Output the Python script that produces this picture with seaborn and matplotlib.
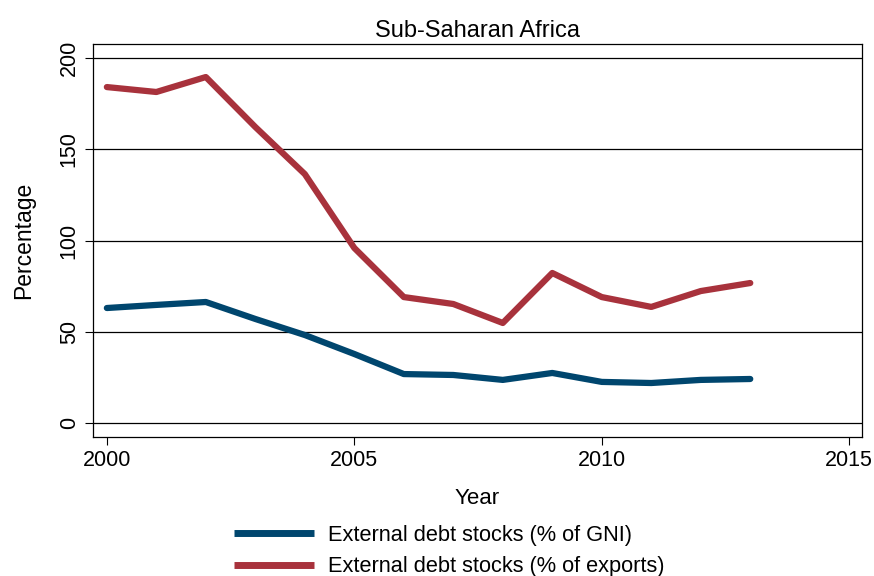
import pandas as pd
import matplotlib
matplotlib.use('Agg')
import matplotlib.pyplot as plt
import seaborn as sns

years = list(range(2000, 2014))
debt_gni = [63.0, 64.7, 66.3, 57.0, 48.2, 37.8, 26.8, 26.3, 23.6, 27.4, 22.5, 21.9, 23.6, 24.1]
debt_exports = [184.1, 181.4, 189.6, 162.2, 136.4, 95.9, 69.0, 65.2, 54.8, 82.2, 69.0, 63.6, 72.3, 76.7]
series_names = ['External debt stocks (% of GNI)', 'External debt stocks (% of exports)']
colors = ['#00466e', '#a8323c']

df = pd.DataFrame({
    'Year': years * 2,
    'value': debt_gni + debt_exports,
    'series': [series_names[0]] * len(years) + [series_names[1]] * len(years),
})

sns.set_style('white')
plt.rcParams['font.family'] = ['Liberation Sans', 'DejaVu Sans']
plt.rcParams['text.color'] = 'black'
plt.rcParams['axes.labelcolor'] = 'black'
plt.rcParams['xtick.color'] = 'black'
plt.rcParams['ytick.color'] = 'black'

fig = plt.figure(figsize=(8.74, 5.76), dpi=100)
ax = fig.add_axes([0.1064, 0.2413, 0.88, 0.6823])

for y in [0, 50, 100, 150, 200]:
    ax.axhline(y, color='black', lw=0.9, zorder=0)

sns.lineplot(data=df, x='Year', y='value', hue='series', palette=colors,
             linewidth=4.5, ax=ax, legend=False)

ax.set_xlim(1999.72, 2015.26)
ax.set_ylim(-7.7, 207.7)
ax.set_xticks([2000, 2005, 2010, 2015])
ax.set_yticks([0, 50, 100, 150, 200])
ax.tick_params(axis='both', direction='out', length=6, width=0.8, color='black',
               labelsize=15.5, bottom=True, left=True)
for lab in ax.get_yticklabels():
    lab.set_rotation(90)
    lab.set_va('center')
for s in ax.spines.values():
    s.set_color('black')
    s.set_linewidth(0.9)

ax.set_title('Sub-Saharan Africa', fontsize=17, pad=5)
ax.set_xlabel('Year', fontsize=16, labelpad=12)
ax.set_ylabel('Percentage', fontsize=16.5, labelpad=17)

handles = [plt.Line2D([0], [0], color=c, lw=5, solid_capstyle='butt') for c in colors]
fig.legend(handles, series_names, loc='center', bbox_to_anchor=(0.514, 0.043),
           frameon=False, fontsize=15.7, handlelength=3.7, handletextpad=0.65,
           labelspacing=0.48)

fig.savefig('out.png', dpi=100)
